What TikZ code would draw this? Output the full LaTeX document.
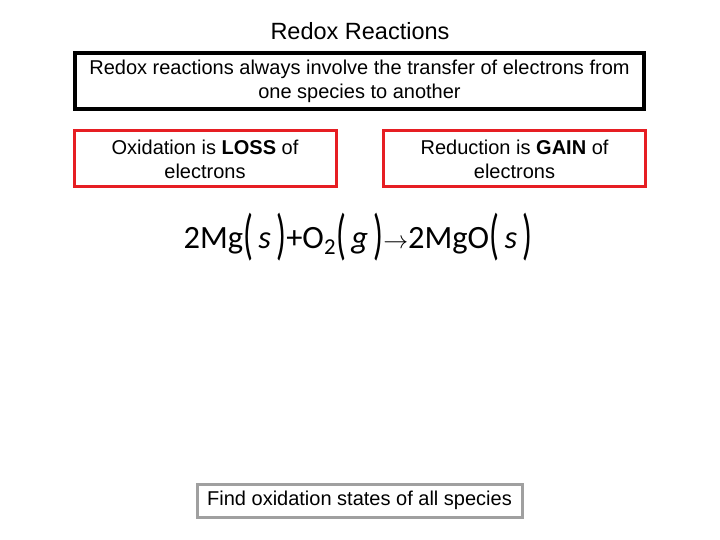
\documentclass[tikz,border=0pt]{standalone}
\usepackage{fontspec}
\setmainfont{Liberation Sans}
\newfontfamily\carlitofont{Carlito}
\newcommand{\bigpar}[1]{\raisebox{-0.3ex}{\scalebox{1}[1.7]{(}}\,#1\,\raisebox{-0.3ex}{\scalebox{1}[1.7]{)}}}
\begin{document}
\begin{tikzpicture}[x=1pt,y=-1pt,
  box/.style={draw,line width=3.5pt,minimum height=56pt,align=center,font=\fontsize{20}{24}\selectfont,inner sep=0pt},
  redbox/.style={box,draw={rgb,255:red,230;green,30;blue,35},line width=3pt,minimum width=262pt},
  graybox/.style={draw={rgb,255:red,160;green,160;blue,160},line width=3pt,font=\fontsize{20}{22}\selectfont,minimum width=325pt,minimum height=33pt,inner sep=0pt}]
\useasboundingbox (0,0) rectangle (720,540);
\node[font=\fontsize{23.5}{26}\selectfont] (title) at (360,31) {Redox Reactions};
\node[box,minimum width=569pt] (def) at (359.5,81) {Redox reactions always involve the transfer of electrons from\\one species to another};
\node[redbox] (ox) at (205,159) {Oxidation is \textbf{LOSS} of\\electrons};
\node[redbox] (red) at (514.5,159) {Reduction is \textbf{GAIN} of\\electrons};
\node[font=\carlitofont\fontsize{32.5}{36}\selectfont] (eq) at (358,237) {2Mg\bigpar{\textit{s}}+O\textsubscript{2}\bigpar{\textit{g}}$\rightarrow$2MgO\bigpar{\textit{s}}};
\node[graybox] (find) at (359.5,500.5) {Find oxidation states of all species};
\end{tikzpicture}
\end{document}
